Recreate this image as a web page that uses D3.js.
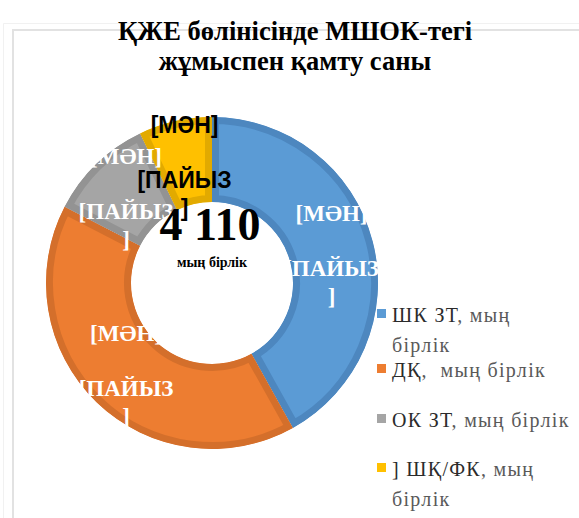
<!DOCTYPE html>
<html>
<head>
<meta charset="utf-8">
<script src="https://cdn.jsdelivr.net/npm/d3@7"></script>
<style>
html,body{margin:0;padding:0;background:#fff;}
svg{display:block;}
text{white-space:pre;}
</style>
</head>
<body>
<div id="chart"></div>
<script>
// ---- data ----
const titleLines = ["ҚЖЕ бөлінісінде МШОК-тегі", "жұмыспен қамту саны"];
const categories = ["ШК ЗТ", "ДҚ", "ОК ЗТ", "] ШҚ/ФК"];
const values = [1722, 1673, 422, 293];
const legendLines = [
  [["ШК ЗТ", ", мың"], ["", "бірлік"]],
  [["ДҚ", ",  мың бірлік"]],
  [["ОК ЗТ", ", мың бірлік"]],
  [["] ШҚ/ФК", ", мың"], ["", "бірлік"]]
];
const labelLines = ["[МӘН]", "[ПАЙЫЗ", "]"];
const centerValue = "4 110";
const centerUnit = "мың бірлік";

// ---- styles ----
const colors = ["#5b9bd5", "#ed7d31", "#a5a5a5", "#ffc000"];
const edgeColors = ["#4d87bf", "#d46f2b", "#939393", "#e2aa00"];
const labelColors = ["#ffffff", "#ffffff", "#ffffff", "#000000"];

const W = 579, H = 518;
const cx = 212, cy = 283, R = 166, r = 81;

const svg = d3.select("#chart").append("svg").attr("width", W).attr("height", H);

// border
svg.append("path").attr("d", `M3.5,${H} V23.5 H${W}`).attr("fill", "none")
  .attr("stroke", "#f1f1f1").attr("stroke-width", 1);
svg.append("path").attr("d", `M13,${H} V30 H${W}`).attr("fill", "none")
  .attr("stroke", "#e2e2e2").attr("stroke-width", 2);

// title
const title = svg.append("text").attr("x", 295).attr("y", 40)
  .attr("text-anchor", "middle")
  .style("font-family", "'Liberation Serif', 'Times New Roman', serif")
  .style("font-weight", "bold").style("font-size", "26.5px").attr("fill", "#000");
title.selectAll("tspan").data(titleLines).join("tspan")
  .attr("x", 295).attr("dy", (d, i) => i === 0 ? 0 : 30).text(d => d);

// donut
const pie = d3.pie().sort(null).value(d => d);
const arcs = pie(values);
const arc = d3.arc().innerRadius(r).outerRadius(R);
const g = svg.append("g").attr("transform", `translate(${cx},${cy})`);
const defs = svg.append("defs");
arcs.forEach((a, i) => {
  defs.append("clipPath").attr("id", "clip" + i).append("path").attr("d", arc(a));
});
g.selectAll("path.slice").data(arcs).join("path")
  .attr("class", "slice")
  .attr("d", arc)
  .attr("fill", (d, i) => colors[i])
  .attr("stroke", (d, i) => edgeColors[i])
  .attr("stroke-width", 14)
  .attr("clip-path", (d, i) => `url(#clip${i})`);

// data labels
const offsets = [-38, 17, 45];
arcs.forEach((a, i) => {
  const [lx, ly] = arc.centroid(a);
  const isDark = labelColors[i] === "#000000";
  labelLines.forEach((t, j) => {
    g.append("text")
      .attr("x", lx).attr("y", ly + offsets[j])
      .attr("text-anchor", "middle").attr("dominant-baseline", "central")
      .style("font-family", isDark ? "'Liberation Sans', Arial, sans-serif" : "'Liberation Serif', 'Times New Roman', serif")
      .style("font-weight", "bold")
      .style("font-size", "23px")
      .attr("fill", labelColors[i])
      .text(t);
  });
});

// center text
svg.append("text").attr("x", 210).attr("y", 240).attr("text-anchor", "middle")
  .style("font-family", "'Liberation Serif', 'Times New Roman', serif")
  .style("font-weight", "bold").style("font-size", "46px").attr("fill", "#000")
  .text(centerValue);
svg.append("text").attr("x", 212).attr("y", 267).attr("text-anchor", "middle")
  .style("font-family", "'Liberation Serif', 'Times New Roman', serif")
  .style("font-weight", "bold").style("font-size", "14px").attr("fill", "#000")
  .text(centerUnit);

// legend
const legendBase = [322, 377, 427, 476];
const lg = svg.append("g");
categories.forEach((c, i) => {
  const by = legendBase[i];
  lg.append("rect").attr("x", 377).attr("y", by - 13).attr("width", 9).attr("height", 9)
    .attr("fill", colors[i]);
  legendLines[i].forEach((ln, j) => {
    const t = lg.append("text").attr("x", 392).attr("y", by + j * 30)
      .style("font-family", "'Liberation Serif', 'Times New Roman', serif")
      .style("font-size", "20px")
      .style("letter-spacing", "1.3px");
    if (ln[0]) t.append("tspan").attr("fill", "#2b2b2b").text(ln[0]);
    t.append("tspan").attr("fill", "#595959").text(ln[1]);
  });
});
</script>
</body>
</html>
